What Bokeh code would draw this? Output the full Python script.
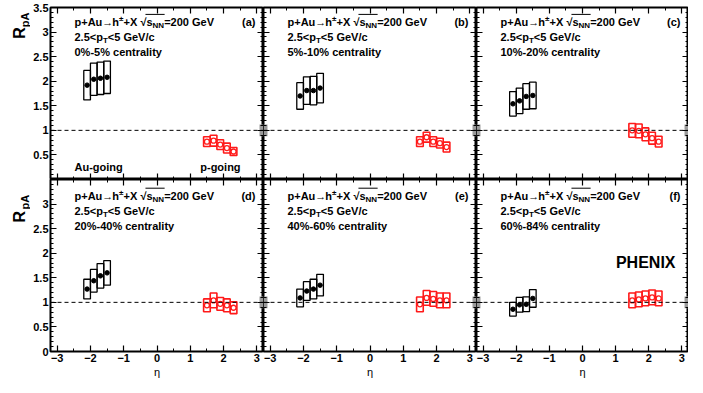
import math
from bokeh.plotting import figure
from bokeh.layouts import gridplot
from bokeh.models import (Range1d, LinearAxis, FixedTicker, CustomJSTickFormatter,
                          Label, Span)
from bokeh.embed import file_html
from bokeh.resources import INLINE

# ---------------- data ----------------
eta_au = [-2.1, -1.9, -1.7, -1.5]
eta_p = [1.5, 1.7, 1.9, 2.1, 2.3]

au_a = [1.92, 2.04, 2.06, 2.08]
au_a_sys = [0.30, 0.33, 0.33, 0.33]
p_a = [0.77, 0.79, 0.71, 0.64, 0.57]
p_a_sys = [0.10, 0.11, 0.10, 0.10, 0.08]

au_b = [1.70, 1.81, 1.81, 1.86]
au_b_sys = [0.27, 0.28, 0.29, 0.30]
p_b = [0.77, 0.86, 0.77, 0.74, 0.66]
p_b_sys = [0.10, 0.10, 0.10, 0.10, 0.10]

au_c = [1.54, 1.60, 1.69, 1.71]
au_c_sys = [0.25, 0.26, 0.26, 0.27]
p_c = [1.00, 0.99, 0.92, 0.84, 0.77]
p_c_sys = [0.14, 0.14, 0.13, 0.12, 0.11]

au_d = [1.27, 1.44, 1.54, 1.60]
au_d_sys = [0.20, 0.23, 0.25, 0.25]
p_d = [0.94, 1.04, 0.97, 0.94, 0.89]
p_d_sys = [0.13, 0.15, 0.13, 0.13, 0.12]

au_e = [1.09, 1.23, 1.27, 1.35]
au_e_sys = [0.18, 0.19, 0.20, 0.22]
p_e = [0.96, 1.09, 1.07, 1.04, 1.04]
p_e_sys = [0.15, 0.15, 0.15, 0.15, 0.15]

au_f = [0.86, 0.95, 0.96, 1.08]
au_f_sys = [0.14, 0.15, 0.15, 0.18]
p_f = [1.04, 1.06, 1.08, 1.10, 1.08]
p_f_sys = [0.15, 0.15, 0.15, 0.15, 0.15]

centralities = ["0%-5%", "5%-10%", "10%-20%", "20%-40%", "40%-60%", "60%-84%"]
panel_tags = ["(a)", "(b)", "(c)", "(d)", "(e)", "(f)"]
norm_unc = [0.12, 0.12, 0.12, 0.12, 0.12, 0.12]

x_major = [-3, -2, -1, 0, 1, 2, 3]
x_minor = [-3, -2.5, -2, -1.5, -1, -0.5, 0, 0.5, 1, 1.5, 2, 2.5, 3]
y_major = [0, 0.5, 1, 1.5, 2, 2.5, 3, 3.5]
y_minor = [round(0.1 * i, 1) for i in range(36)]

panels = [
    (au_a, au_a_sys, p_a, p_a_sys),
    (au_b, au_b_sys, p_b, p_b_sys),
    (au_c, au_c_sys, p_c, p_c_sys),
    (au_d, au_d_sys, p_d, p_d_sys),
    (au_e, au_e_sys, p_e, p_e_sys),
    (au_f, au_f_sys, p_f, p_f_sys),
]

# ---------------- layout ----------------
TITLE_W = 30
LEFT = 19
FWS = [213, 213, 212]
FH = 172
TOP, BOTTOM = 7, 26
XMIN, XMAX = -3.2, 3.2
YMIN, YMAX = 0.0, 3.5
PPY = FH / (YMAX - YMIN)
FONT = "Liberation Sans"

# Arial/Liberation Sans Bold advance widths (per 1000 em)
W = {' ': 278, '+': 584, 'p': 611, 'A': 722, 'u': 611, 'h': 611, 'X': 667, 's': 556,
     'N': 722, '=': 584, '2': 556, '0': 556, 'G': 778, 'e': 556, 'V': 667, '.': 278,
     '5': 556, '<': 584, 'T': 611, '/': 278, 'c': 556, '±': 584, '√': 549, '→': 900}


def tw(s, size):
    return sum(W.get(ch, 556) for ch in s) * size / 1000.0


def ydat(px_below_top):
    return YMAX - px_below_top / PPY


def lab(p, x, y, text, size, xoff=0, align="left", baseline="alphabetic", angle=0.0):
    p.add_layout(Label(x=x, y=y, x_offset=xoff, text=text, text_font=FONT,
                       text_font_style="bold", text_font_size=f"{size}px",
                       text_align=align, text_baseline=baseline, angle=angle,
                       text_color="black"))


def style_axis(ax, labels_js):
    ax.axis_line_color = None
    ax.major_tick_in = 6
    ax.major_tick_out = 0
    ax.minor_tick_in = 3
    ax.minor_tick_out = 0
    ax.major_tick_line_color = "black"
    ax.minor_tick_line_color = "black"
    ax.major_tick_line_width = 1.2
    ax.minor_tick_line_width = 1
    ax.formatter = CustomJSTickFormatter(code=labels_js)
    ax.major_label_text_font = FONT
    ax.major_label_text_font_style = "bold"
    ax.major_label_text_font_size = "11px"
    ax.major_label_text_color = "black"


def hide_labels(ax):
    style_axis(ax, "return '';")
    ax.major_label_standoff = 0
    ax.major_label_text_font_size = "0px"


def make_title_column(row):
    # narrow strip holding the rotated R_pA axis title of a row
    p = figure(frame_width=TITLE_W, frame_height=FH,
               x_range=Range1d(0, TITLE_W), y_range=Range1d(0, FH),
               output_backend="svg", toolbar_location=None,
               x_axis_location=None, y_axis_location=None,
               min_border_left=0, min_border_right=0,
               min_border_top=TOP if row == 0 else 0,
               min_border_bottom=BOTTOM if row == 1 else 0)
    p.grid.visible = False
    p.outline_line_color = None
    p.background_fill_color = "white"
    p.border_fill_color = "white"
    if row == 0:
        r_start, s_start = 31.3, 19.7
    else:
        r_start, s_start = 43.0, 30.0
    lab(p, 19.0, FH - r_start, "R", 16, angle=math.pi / 2)
    lab(p, 24.5, FH - s_start, "pA", 11, angle=math.pi / 2)
    return p


def make_panel(idx):
    row, col = divmod(idx, 3)
    au, au_sys, pp, pp_sys = panels[idx]
    fw = FWS[col]
    ppx = fw / (XMAX - XMIN)
    p = figure(frame_width=fw, frame_height=FH,
               x_range=Range1d(XMIN, XMAX), y_range=Range1d(YMIN, YMAX),
               output_backend="svg", toolbar_location=None,
               min_border_left=LEFT if col == 0 else 0, min_border_right=0,
               min_border_top=TOP if row == 0 else 0,
               min_border_bottom=BOTTOM if row == 1 else 0)
    p.grid.visible = False
    p.outline_line_color = "black"
    p.outline_line_width = 2
    p.outline_line_alpha = 1
    p.background_fill_color = "white"
    p.border_fill_color = "white"

    # bottom axis
    xa = p.xaxis[0]
    xa.ticker = FixedTicker(ticks=x_major, minor_ticks=x_minor)
    if row == 1:
        style_axis(xa, "return tick < 0 ? '\u2212' + Math.abs(tick) : '' + tick;")
        xa.major_label_standoff = 2
        xa.axis_label = "\u03b7"
        xa.axis_label_text_font = FONT
        xa.axis_label_text_font_style = "normal"
        xa.axis_label_text_font_size = "11px"
        xa.axis_label_text_color = "black"
        xa.axis_label_standoff = 1
    else:
        hide_labels(xa)

    # left axis
    ya = p.yaxis[0]
    ya.ticker = FixedTicker(ticks=y_major, minor_ticks=y_minor)
    if col == 0:
        if row == 0:
            style_axis(ya, "return tick == 0 ? '' : '' + tick;")
        else:
            style_axis(ya, "return tick >= 3.5 ? '' : '' + tick;")
        ya.major_label_standoff = 2
    else:
        hide_labels(ya)

    # top & right axes (ticks only)
    ta = LinearAxis(ticker=FixedTicker(ticks=x_major, minor_ticks=x_minor))
    hide_labels(ta)
    p.add_layout(ta, "above")
    ra = LinearAxis(ticker=FixedTicker(ticks=y_major, minor_ticks=y_minor))
    hide_labels(ra)
    p.add_layout(ra, "right")

    # reference line at 1
    p.add_layout(Span(location=1.0, dimension="width", line_color="black",
                      line_dash="4 3", line_width=1))

    # normalisation boxes (own at right edge, previous panel's overflow at left edge)
    gw = 0.12
    nu = norm_unc[idx]
    p.quad(left=[XMAX - gw], right=[XMAX], bottom=[1 - nu], top=[1 + nu],
           fill_color="#9a9a9a", line_color=None)
    if col > 0:
        nu_prev = norm_unc[idx - 1]
        p.quad(left=[XMIN], right=[XMIN + gw], bottom=[1 - nu_prev], top=[1 + nu_prev],
               fill_color="#9a9a9a", line_color=None)

    # Au-going: black boxes + filled dots
    hw = 0.1
    p.quad(left=[e - hw for e in eta_au], right=[e + hw for e in eta_au],
           bottom=[v - s for v, s in zip(au, au_sys)], top=[v + s for v, s in zip(au, au_sys)],
           fill_color=None, line_color="black", line_width=1.3)
    p.scatter(eta_au, au, marker="circle", size=4.5, fill_color="black", line_color="black")

    # p-going: red boxes + open circles
    p.quad(left=[e - hw for e in eta_p], right=[e + hw for e in eta_p],
           bottom=[v - s for v, s in zip(pp, pp_sys)], top=[v + s for v, s in zip(pp, pp_sys)],
           fill_color=None, line_color="#ff1a1a", line_width=1.6)
    p.scatter(eta_p, pp, marker="circle", size=5, fill_color=None, line_color="#ff1a1a",
              line_width=1.3)

    # ---- texts ----
    x0 = 24
    b1 = 14.7 if row == 0 else 16.5
    y1, y2, y3 = ydat(b1), ydat(b1 + 15), ydat(b1 + 30)
    sub = 3.0 / PPY
    sup = 4.0 / PPY
    off = x0
    pieces = [("p+Au", 11, 0.0), ("\u2192", 11, 0.0), ("h", 11, 0.0), ("\u00b1", 8, sup),
              ("+X ", 11, 0.0), ("\u221a", 11, 0.0), ("s", 11, 0.0), ("NN", 8, -sub),
              ("=200 GeV", 11, 0.0)]
    s_x = None
    nn_end = None
    for t, fs, dy in pieces:
        if t == "s":
            s_x = off
        lab(p, XMIN, y1 + dy, t, fs, xoff=off)
        off += tw(t, fs)
        if t == "NN":
            nn_end = off
    # vinculum of the square root
    yl = y1 + 7.8 / PPY
    p.segment(x0=[XMIN + (s_x - 1.0) / ppx], x1=[XMIN + (nn_end + 0.5) / ppx],
              y0=[yl], y1=[yl], line_color="black", line_width=1)

    off = x0
    for t, fs, dy in [("2.5<p", 11, 0.0), ("T", 8, -sub), ("<5 GeV/c", 11, 0.0)]:
        lab(p, XMIN, y2 + dy, t, fs, xoff=off)
        off += tw(t, fs)
    lab(p, XMIN, y3, centralities[idx] + " centrality", 11, xoff=x0)
    lab(p, XMAX, y1, panel_tags[idx], 11, xoff=-8, align="right")

    if idx == 0:
        lab(p, XMIN, 0.25, "Au-going", 11, xoff=x0)
        lab(p, 1.30, 0.25, "p-going", 11)
    if idx == 5:
        lab(p, XMAX, 1.82, "PHENIX", 16, xoff=-13, align="right")
    return p


figs = [make_panel(i) for i in range(6)]
rows = [[make_title_column(0)] + figs[0:3], [make_title_column(1)] + figs[3:6]]
grid = gridplot(rows, toolbar_location=None)

open("out.html", "w").write(file_html(grid, INLINE))
